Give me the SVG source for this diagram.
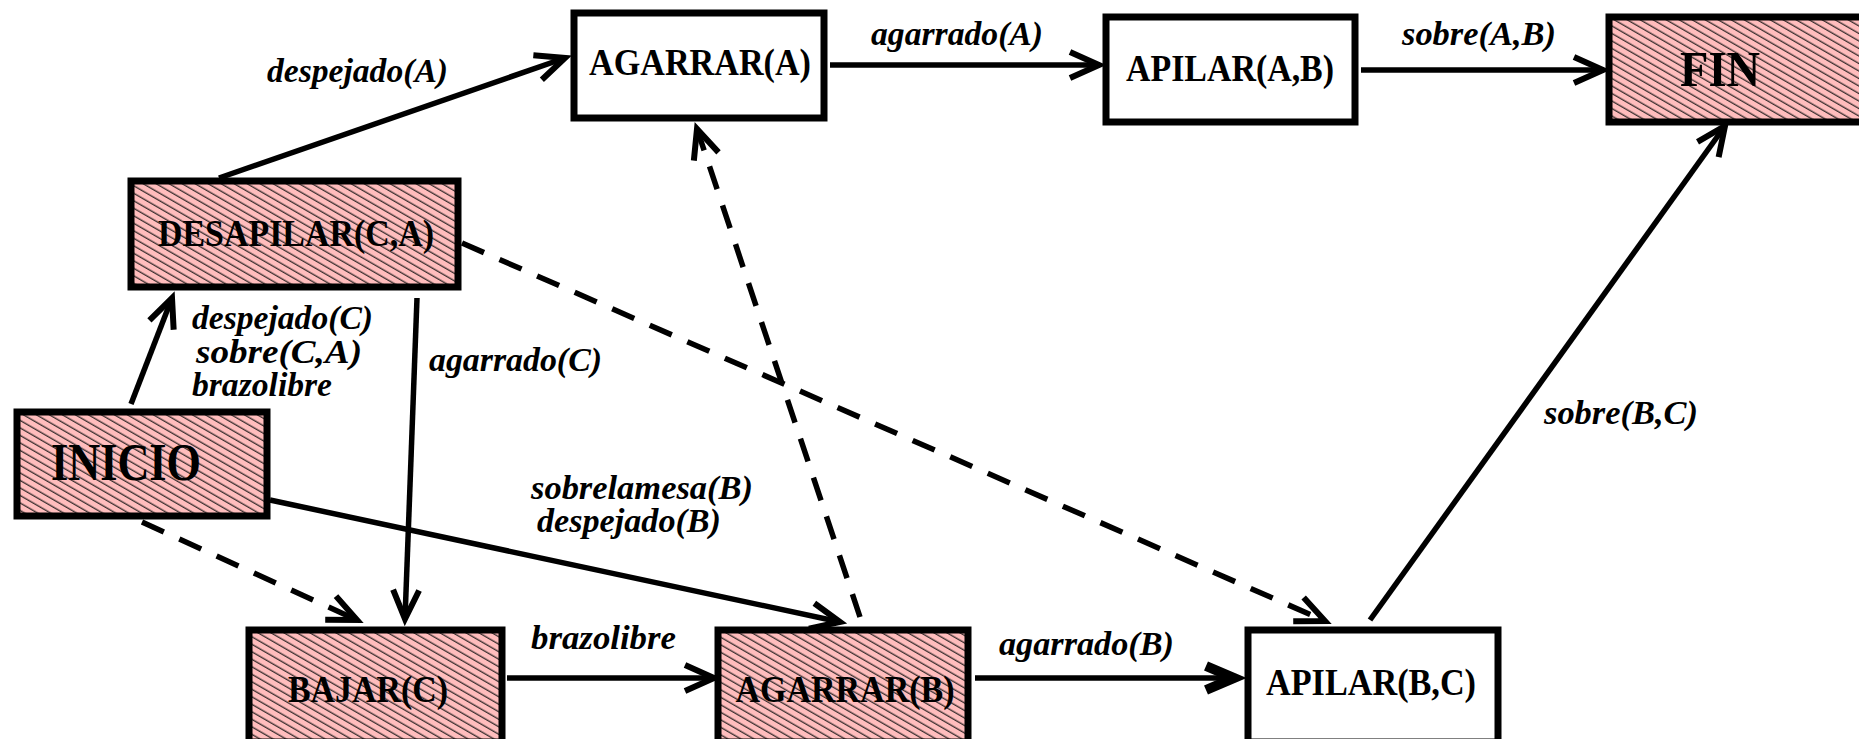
<svg xmlns="http://www.w3.org/2000/svg" width="1859" height="739" viewBox="0 0 1859 739">
<style>
.box{stroke:#000;stroke-width:7}
.hat{fill:url(#hatch)}
.wht{fill:#fff}
.nt{font-family:"Liberation Serif","Times New Roman",serif;font-weight:bold;font-size:37px;fill:#000;text-anchor:middle}
.el{font-family:"Liberation Serif","Times New Roman",serif;font-weight:bold;font-style:italic;font-size:33px;fill:#000}
.c{fill:none;stroke:#000;stroke-width:5.5}
.d{stroke-dasharray:24 17}
</style>
<defs>
<pattern id="hatch" patternUnits="userSpaceOnUse" width="20" height="6.5" patternTransform="rotate(30)">
<rect width="20" height="6.5" fill="#FFBDBD"/>
<line x1="0" y1="3" x2="20" y2="3" stroke="#111" stroke-width="1.1"/>
</pattern>
<marker id="ah" markerUnits="userSpaceOnUse" markerWidth="60" markerHeight="60" viewBox="-40 -30 60 60" refX="0" refY="0" orient="auto" overflow="visible">
<path d="M-29,-13 L0,0 L-29,13" fill="none" stroke="#000" stroke-width="6"/>
</marker>
<marker id="ahb" markerUnits="userSpaceOnUse" markerWidth="60" markerHeight="60" viewBox="-40 -30 60 60" refX="0" refY="0" orient="auto" overflow="visible">
<path d="M-32,-12 L-4,0 L-32,12" fill="none" stroke="#000" stroke-width="10"/>
</marker>
</defs>
<rect width="1859" height="739" fill="#fff"/>

<g id="connectors">
<line class="c" x1="219" y1="178" x2="565" y2="58" marker-end="url(#ah)"/>
<line class="c" x1="830" y1="65" x2="1099" y2="65" marker-end="url(#ah)"/>
<line class="c" x1="1361" y1="70" x2="1603" y2="70" marker-end="url(#ah)"/>
<line class="c" x1="131" y1="404" x2="172" y2="298" marker-end="url(#ah)"/>
<line class="c" x1="417" y1="298" x2="405" y2="619" marker-end="url(#ah)"/>
<line class="c" x1="270" y1="500" x2="840" y2="622" marker-end="url(#ah)"/>
<line class="c d" x1="142" y1="522" x2="357" y2="620" marker-end="url(#ah)"/>
<line class="c d" x1="860" y1="617" x2="697" y2="129" marker-end="url(#ah)"/>
<line class="c d" x1="462" y1="243" x2="1325" y2="621" marker-end="url(#ah)"/>
<line class="c" x1="507" y1="678" x2="714" y2="678" marker-end="url(#ah)"/>
<line class="c" x1="975" y1="678" x2="1238" y2="678" marker-end="url(#ahb)"/>
<line class="c" x1="1370" y1="620" x2="1725" y2="126" marker-end="url(#ah)"/>
</g>

<g id="AGARRAR_A">
<rect class="box wht" x="574" y="13" width="250" height="105"/>
<text class="nt" x="700" y="75" textLength="222" lengthAdjust="spacingAndGlyphs">AGARRAR(A)</text>
</g>
<g id="APILAR_AB">
<rect class="box wht" x="1106" y="17" width="249" height="105"/>
<text class="nt" x="1230" y="81" textLength="208" lengthAdjust="spacingAndGlyphs">APILAR(A,B)</text>
</g>
<g id="FIN">
<rect class="box hat" x="1609" y="17" width="256" height="105"/>
<text class="nt" x="1720" y="86" style="font-size:50px" textLength="80" lengthAdjust="spacingAndGlyphs">FIN</text>
</g>
<g id="DESAPILAR_CA">
<rect class="box hat" x="131" y="181" width="327" height="106"/>
<text class="nt" x="296" y="246" textLength="276" lengthAdjust="spacingAndGlyphs">DESAPILAR(C,A)</text>
</g>
<g id="INICIO">
<rect class="box hat" x="17" y="412" width="250" height="104"/>
<text class="nt" x="126" y="480" style="font-size:52px" textLength="150" lengthAdjust="spacingAndGlyphs">INICIO</text>
</g>
<g id="BAJAR_C">
<rect class="box hat" x="249" y="630" width="253" height="112"/>
<text class="nt" x="368" y="702" textLength="160" lengthAdjust="spacingAndGlyphs">BAJAR(C)</text>
</g>
<g id="AGARRAR_B">
<rect class="box hat" x="718" y="630" width="250" height="112"/>
<text class="nt" x="845" y="702" textLength="219" lengthAdjust="spacingAndGlyphs">AGARRAR(B)</text>
</g>
<g id="APILAR_BC">
<rect class="box wht" x="1248" y="630" width="250" height="112"/>
<text class="nt" x="1371" y="695" textLength="210" lengthAdjust="spacingAndGlyphs">APILAR(B,C)</text>
</g>

<g id="labels">
<text class="el" x="267" y="82" textLength="181" lengthAdjust="spacingAndGlyphs">despejado(A)</text>
<text class="el" x="871" y="45" textLength="172" lengthAdjust="spacingAndGlyphs">agarrado(A)</text>
<text class="el" x="1402" y="45" textLength="154" lengthAdjust="spacingAndGlyphs">sobre(A,B)</text>
<text class="el" x="192" y="329" textLength="181" lengthAdjust="spacingAndGlyphs">despejado(C)</text>
<text class="el" x="196" y="363" textLength="166" lengthAdjust="spacingAndGlyphs">sobre(C,A)</text>
<text class="el" x="192" y="396" textLength="140" lengthAdjust="spacingAndGlyphs">brazolibre</text>
<text class="el" x="429" y="371" textLength="173" lengthAdjust="spacingAndGlyphs">agarrado(C)</text>
<text class="el" x="531" y="499" textLength="222" lengthAdjust="spacingAndGlyphs">sobrelamesa(B)</text>
<text class="el" x="537" y="532" textLength="184" lengthAdjust="spacingAndGlyphs">despejado(B)</text>
<text class="el" x="531" y="649" textLength="145" lengthAdjust="spacingAndGlyphs">brazolibre</text>
<text class="el" x="999" y="655" textLength="175" lengthAdjust="spacingAndGlyphs">agarrado(B)</text>
<text class="el" x="1544" y="424" textLength="154" lengthAdjust="spacingAndGlyphs">sobre(B,C)</text>
</g>
</svg>
